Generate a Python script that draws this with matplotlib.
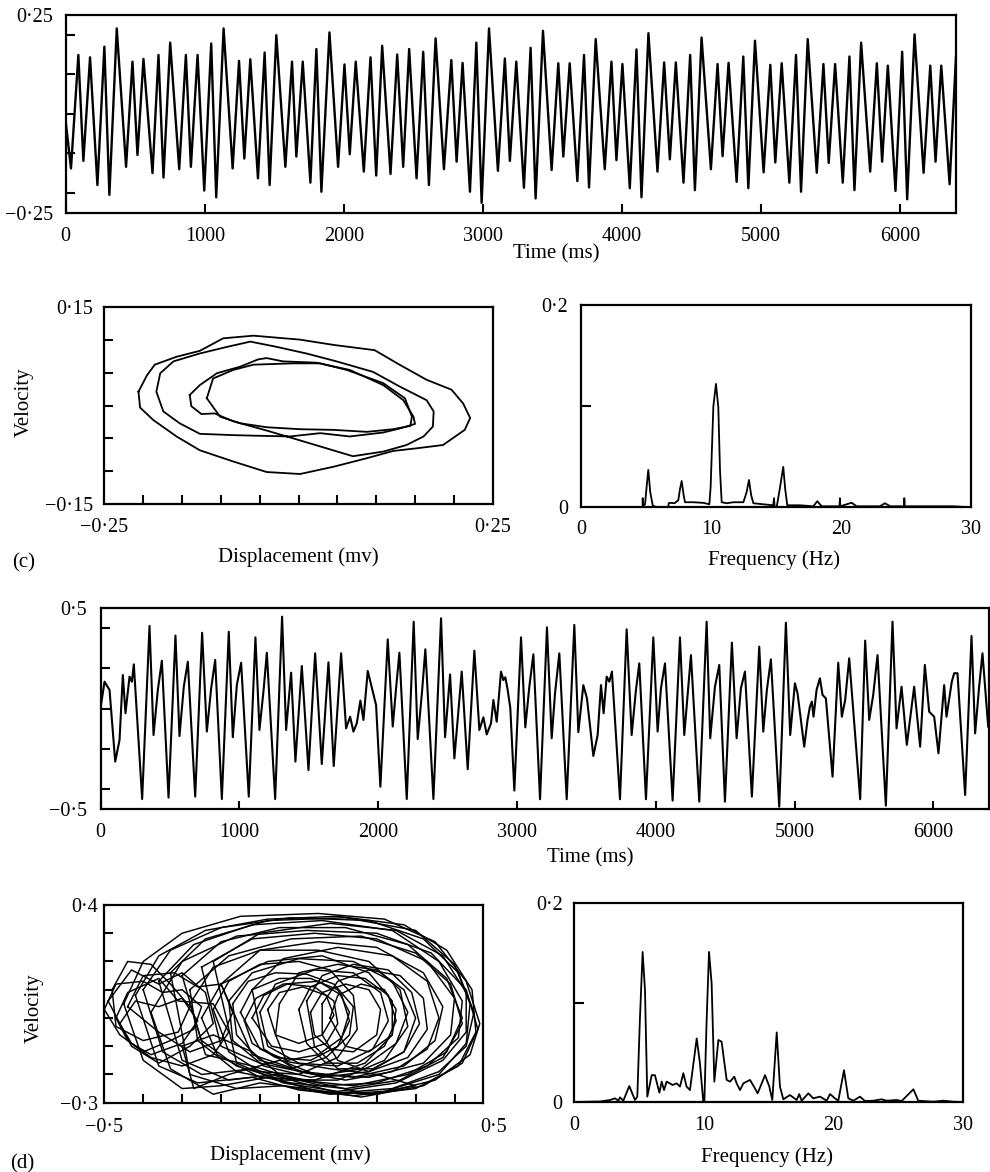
import matplotlib
matplotlib.use("Agg")
import matplotlib.pyplot as plt

plt.rcParams['font.family'] = ['Liberation Serif', 'DejaVu Serif']

# ---------------- data ----------------
# top time series: extrema (time ms, displacement)
top_t = [0, 38, 91, 127, 175, 228, 278, 314, 367, 434, 480, 516, 559, 624, 667, 703, 751, 816, 864, 900,
         948, 996, 1046, 1082, 1135, 1200, 1246, 1284, 1327, 1382, 1430, 1466, 1514, 1579, 1627, 1658, 1704,
         1759, 1802, 1838, 1896, 1958, 2004, 2042, 2085, 2143, 2191, 2232, 2275, 2335, 2383, 2426, 2469,
         2522, 2570, 2611, 2659, 2719, 2772, 2810, 2853, 2906, 2952, 2990, 3043, 3107, 3157, 3193, 3239,
         3294, 3342, 3378, 3431, 3493, 3541, 3577, 3623, 3678, 3726, 3762, 3810, 3875, 3923, 3959, 4002,
         4055, 4103, 4139, 4189, 4254, 4302, 4343, 4386, 4441, 4489, 4523, 4571, 4638, 4686, 4722, 4765,
         4823, 4871, 4907, 4955, 5017, 5065, 5101, 5147, 5202, 5250, 5286, 5334, 5399, 5447, 5485, 5531,
         5586, 5634, 5670, 5718, 5783, 5831, 5869, 5910, 5965, 6013, 6049, 6102, 6167, 6215, 6253, 6294,
         6354, 6400]
top_v = [-0.02, -0.138, 0.149, -0.119, 0.143, -0.180, 0.170, -0.205, 0.216, -0.134, 0.132, -0.104, 0.139,
         -0.150, 0.149, -0.161, 0.180, -0.140, 0.149, -0.134, 0.149, -0.194, 0.178, -0.211, 0.216, -0.138,
         0.134, -0.113, 0.138, -0.163, 0.155, -0.180, 0.199, -0.134, 0.132, -0.108, 0.132, -0.174, 0.164,
         -0.197, 0.206, -0.134, 0.125, -0.102, 0.132, -0.146, 0.143, -0.156, 0.172, -0.152, 0.150, -0.134,
         0.164, -0.163, 0.157, -0.180, 0.191, -0.140, 0.136, -0.121, 0.129, -0.197, 0.180, -0.225, 0.216,
         -0.144, 0.140, -0.119, 0.132, -0.187, 0.167, -0.214, 0.210, -0.142, 0.128, -0.108, 0.128, -0.170,
         0.149, -0.186, 0.189, -0.140, 0.132, -0.117, 0.126, -0.188, 0.163, -0.211, 0.204, -0.146, 0.130,
         -0.115, 0.130, -0.174, 0.149, -0.193, 0.193, -0.140, 0.126, -0.107, 0.129, -0.172, 0.145, -0.188,
         0.185, -0.148, 0.124, -0.123, 0.128, -0.174, 0.149, -0.197, 0.189, -0.149, 0.126, -0.124, 0.126,
         -0.174, 0.145, -0.193, 0.180, -0.146, 0.128, -0.121, 0.122, -0.195, 0.157, -0.216, 0.201, -0.149,
         0.122, -0.121, 0.122, -0.178, 0.145]

# panel (c) phase portrait loops (displacement, velocity)
c_loop_outer = [(-0.206, 0.021), (-0.195, 0.046), (-0.185, 0.062), (-0.157, 0.074), (-0.127, 0.083),
                (-0.097, 0.102), (-0.058, 0.106), (0.002, 0.100), (0.045, 0.092), (0.098, 0.084),
                (0.130, 0.062), (0.165, 0.039), (0.197, 0.024), (0.212, 0.003), (0.221, -0.019),
                (0.214, -0.037), (0.186, -0.060), (0.152, -0.065), (0.122, -0.069), (0.088, -0.080),
                (0.045, -0.093), (0.002, -0.104), (-0.041, -0.101), (-0.084, -0.085), (-0.127, -0.068),
                (-0.157, -0.047), (-0.187, -0.022), (-0.204, -0.003), (-0.206, 0.021)]
c_loop_mid = [(-0.140, 0.016), (-0.127, 0.031), (-0.105, 0.049), (-0.075, 0.059), (-0.052, 0.070),
              (-0.041, 0.072), (-0.020, 0.067), (0.023, 0.065), (0.066, 0.054), (0.109, 0.031),
              (0.135, 0.008), (0.148, -0.017), (0.150, -0.028), (0.130, -0.035), (0.109, -0.041),
              (0.066, -0.047), (0.028, -0.042), (-0.011, -0.047), (-0.050, -0.046), (-0.084, -0.045),
              (-0.127, -0.043), (-0.153, -0.027), (-0.174, -0.009), (-0.183, 0.021), (-0.178, 0.049),
              (-0.161, 0.067), (-0.127, 0.079), (-0.092, 0.089), (-0.062, 0.097), (-0.028, 0.089),
              (0.010, 0.079), (0.049, 0.067), (0.096, 0.051), (0.130, 0.029), (0.165, 0.008),
              (0.174, -0.009), (0.173, -0.032), (0.161, -0.047), (0.139, -0.060), (0.109, -0.070),
              (0.070, -0.077), (0.036, -0.065), (0.002, -0.053), (-0.041, -0.038), (-0.084, -0.024),
              (-0.108, -0.012), (-0.125, -0.013), (-0.138, -0.001), (-0.140, 0.016)]
c_loop_inner = [(-0.118, 0.011), (-0.110, 0.041), (-0.084, 0.054), (-0.058, 0.062), (-0.007, 0.064),
                (0.028, 0.064), (0.062, 0.054), (0.109, 0.034), (0.137, 0.011), (0.146, -0.017),
                (0.144, -0.031), (0.122, -0.036), (0.088, -0.040), (0.045, -0.037), (0.002, -0.036),
                (-0.041, -0.033), (-0.075, -0.027), (-0.101, -0.017), (-0.118, 0.011)]

# panel (c) spectrum
c_freq = [0, 4.74, 4.75, 4.77, 4.93, 5.05, 5.18, 5.33, 5.52, 5.62, 6.0, 6.72, 6.75, 6.85, 7.2, 7.49,
          7.62, 7.75, 7.9, 8.01, 8.65, 9.42, 9.88, 9.98, 10.19, 10.39, 10.57, 10.70, 10.83, 11.21, 11.73,
          12.50, 12.75, 12.93, 13.1, 13.27, 14.03, 14.80, 14.86, 14.90, 15.06, 15.3, 15.57, 15.72, 15.88,
          16.86, 17.88, 18.19, 18.53, 19.9, 19.93, 19.96, 20.83, 21.22, 23.0, 23.40, 23.8, 24.87, 24.89,
          24.92, 26.1, 28.66, 30]
c_amp = [0.0, 0.0, 0.009, 0.001, 0.003, 0.020, 0.037, 0.015, 0.002, 0.001, 0.0, 0.0, 0.004, 0.0044,
         0.004, 0.007, 0.018, 0.026, 0.012, 0.005, 0.005, 0.0044, 0.003, 0.020, 0.100, 0.122, 0.099, 0.037,
         0.005, 0.004, 0.005, 0.005, 0.015, 0.027, 0.012, 0.004, 0.003, 0.002, 0.009, 0.001, 0.0, 0.018,
         0.040, 0.018, 0.002, 0.002, 0.001, 0.006, 0.001, 0.001, 0.009, 0.001, 0.0045, 0.001, 0.001, 0.004,
         0.001, 0.001, 0.009, 0.001, 0.001, 0.001, 0.0]

# panel (d) time series: extrema (time ms, displacement)
d_t = [0, 29, 65, 106, 137, 161, 180, 209, 226, 240, 300, 353, 382, 413, 442, 490, 540, 569, 600, 629,
       682, 732, 766, 797, 826, 874, 924, 953, 982, 1013, 1068, 1116, 1145, 1176, 1198, 1258, 1308, 1337,
       1373, 1404, 1450, 1498, 1546, 1594, 1642, 1680, 1733, 1769, 1798, 1822, 1846, 1872, 1894, 1925,
       1944, 1985, 2016, 2069, 2105, 2129, 2153, 2206, 2256, 2285, 2316, 2340, 2398, 2453, 2482, 2518,
       2549, 2602, 2645, 2693, 2729, 2758, 2782, 2813, 2830, 2854, 2885, 2902, 2916, 2933, 2952, 2981,
       3029, 3060, 3089, 3118, 3166, 3216, 3250, 3274, 3305, 3358, 3413, 3442, 3478, 3504, 3550, 3581,
       3605, 3624, 3646, 3665, 3684, 3742, 3790, 3826, 3857, 3881, 3929, 3982, 4013, 4037, 4066, 4121,
       4174, 4205, 4234, 4253, 4313, 4366, 4392, 4426, 4457, 4498, 4548, 4582, 4613, 4642, 4692, 4745,
       4774, 4800, 4829, 4889, 4937, 4968, 5002, 5021, 5069, 5093, 5110, 5124, 5136, 5158, 5182, 5201,
       5225, 5273, 5314, 5340, 5364, 5393, 5472, 5508, 5537, 5566, 5597, 5657, 5705, 5734, 5770, 5808,
       5861, 5904, 5938, 5969, 6005, 6036, 6077, 6094, 6132, 6149, 6173, 6228, 6274, 6300, 6329, 6353,
       6394]
d_v = [0.002, 0.134, 0.093, -0.263, -0.156, 0.167, -0.023, 0.159, 0.134, 0.220,
       -0.449, 0.411, -0.131, 0.093, 0.238, -0.442, 0.363, -0.136, 0.109, 0.233,
       -0.437, 0.377, -0.114, 0.101, 0.242, -0.449, 0.382, -0.142, 0.117, 0.228,
       -0.437, 0.354, -0.106, 0.101, 0.278, -0.449, 0.457, -0.106, 0.179, -0.263,
       0.212, -0.305, 0.275, -0.275, 0.230, -0.285, 0.275, -0.098, -0.040, -0.114,
       -0.073, 0.040, -0.056, 0.187, 0.134, 0.018, -0.388, 0.344, -0.089, 0.101,
       0.278, -0.449, 0.432, -0.151, 0.084, 0.295, -0.449, 0.449, -0.142, 0.170,
       -0.247, 0.184, -0.301, 0.288, -0.106, -0.043, -0.128, -0.073, 0.043, -0.065,
       0.184, 0.142, 0.156, 0.093, 0.002, -0.407, 0.354, -0.093, 0.109, 0.270,
       -0.450, 0.404, -0.147, 0.076, 0.275, -0.450, 0.416, -0.117, 0.117, 0.051,
       -0.235, -0.131, 0.117, -0.023, 0.159, 0.134, 0.184, -0.450, 0.394, -0.131,
       0.093, 0.225, -0.450, 0.354, -0.114, 0.101, 0.225, -0.457, 0.354, -0.131,
       0.109, 0.266, -0.462, 0.432, -0.147, 0.109, 0.217, -0.462, 0.328, -0.147,
       0.101, 0.184, -0.437, 0.308, -0.114, 0.093, 0.245, -0.487, 0.427, -0.131,
       0.126, 0.076, -0.189, -0.056, 0.010, 0.035, -0.040, 0.093, 0.151, 0.068,
       0.051, -0.338, 0.228, -0.040, 0.043, 0.250, -0.450, 0.338, -0.056, 0.068,
       0.266, -0.482, 0.432, -0.098, 0.109, -0.180, 0.109, -0.189, 0.217, -0.015,
       -0.040, -0.222, 0.117, -0.040, 0.134, 0.176, 0.176, -0.429, 0.361, -0.123,
       0.109, 0.275, -0.089]

# panel (d) phase portrait loops (displacement, velocity)
d_big_1 = [(-0.45, 0.05), (-0.40, 0.20), (-0.30, 0.30), (-0.15, 0.36), (0.05, 0.37), (0.22, 0.35),
           (0.35, 0.27), (0.43, 0.13), (0.465, -0.02), (0.44, -0.13), (0.35, -0.22), (0.20, -0.27),
           (0.05, -0.26), (-0.08, -0.21), (-0.20, -0.24), (-0.30, -0.25), (-0.40, -0.15), (-0.45, 0.05)]
d_big_2 = [(-0.40, 0.10), (-0.33, 0.24), (-0.20, 0.32), (-0.02, 0.355), (0.18, 0.345), (0.32, 0.28),
           (0.41, 0.16), (0.45, 0.02), (0.43, -0.10), (0.36, -0.19), (0.24, -0.25), (0.10, -0.265),
           (-0.02, -0.22), (-0.12, -0.18), (-0.25, -0.20), (-0.35, -0.12), (-0.40, 0.10)]
d_big_3 = [(-0.36, 0.13), (-0.27, 0.26), (-0.12, 0.33), (0.06, 0.345), (0.24, 0.31), (0.36, 0.20),
           (0.42, 0.06), (0.41, -0.07), (0.33, -0.17), (0.20, -0.23), (0.06, -0.24), (-0.06, -0.20),
           (-0.18, -0.22), (-0.30, -0.15), (-0.36, 0.13)]
d_big_4 = [(-0.30, 0.15), (-0.20, 0.27), (-0.05, 0.32), (0.12, 0.32), (0.28, 0.26), (0.38, 0.14),
           (0.42, 0.00), (0.38, -0.12), (0.28, -0.20), (0.14, -0.24), (0.00, -0.22), (-0.12, -0.17),
           (-0.24, -0.13), (-0.30, 0.15)]
d_big_5 = [(-0.25, 0.18), (-0.12, 0.28), (0.04, 0.30), (0.20, 0.28), (0.33, 0.20), (0.40, 0.07),
           (0.39, -0.06), (0.32, -0.16), (0.18, -0.21), (0.04, -0.20), (-0.10, -0.16), (-0.20, -0.10),
           (-0.25, 0.18)]
d_big_6 = [(-0.20, 0.12), (-0.10, 0.24), (0.05, 0.27), (0.20, 0.25), (0.32, 0.16), (0.37, 0.04),
           (0.35, -0.08), (0.27, -0.17), (0.14, -0.21), (0.01, -0.19), (-0.12, -0.13), (-0.20, 0.12)]
d_big_7 = [(-0.38, 0.02), (-0.30, 0.20), (-0.16, 0.29), (0.02, 0.31), (0.20, 0.30), (0.34, 0.23),
           (0.43, 0.10), (0.46, -0.04), (0.42, -0.16), (0.32, -0.24), (0.16, -0.28), (0.02, -0.25),
           (-0.10, -0.23), (-0.22, -0.27), (-0.33, -0.18), (-0.38, 0.02)]
d_big_8 = [(-0.42, 0.08), (-0.36, 0.22), (-0.24, 0.31), (-0.08, 0.35), (0.10, 0.36), (0.27, 0.33),
           (0.38, 0.24), (0.445, 0.10), (0.455, -0.05), (0.41, -0.17), (0.30, -0.25), (0.14, -0.275),
           (0.00, -0.255), (-0.12, -0.21), (-0.26, -0.23), (-0.36, -0.17), (-0.42, 0.08)]
d_big_9 = [(-0.33, 0.16), (-0.24, 0.28), (-0.08, 0.345), (0.12, 0.355), (0.30, 0.31), (0.40, 0.19),
           (0.44, 0.05), (0.43, -0.09), (0.36, -0.20), (0.22, -0.26), (0.08, -0.27), (-0.04, -0.24),
           (-0.16, -0.25), (-0.28, -0.20), (-0.33, 0.16)]
d_big_10 = [(-0.28, 0.10), (-0.18, 0.22), (-0.02, 0.28), (0.16, 0.29), (0.30, 0.23), (0.39, 0.12),
            (0.42, -0.02), (0.37, -0.14), (0.26, -0.22), (0.12, -0.25), (-0.02, -0.23), (-0.16, -0.19),
            (-0.26, -0.08), (-0.28, 0.10)]
d_big_11 = [(-0.22, 0.20), (-0.10, 0.30), (0.08, 0.335), (0.25, 0.31), (0.37, 0.22), (0.43, 0.09),
            (0.43, -0.05), (0.37, -0.15), (0.25, -0.23), (0.10, -0.26), (-0.04, -0.23), (-0.16, -0.16),
            (-0.22, 0.20)]
d_big_12 = [(-0.12, 0.10), (-0.04, 0.21), (0.10, 0.25), (0.24, 0.22), (0.33, 0.13), (0.36, 0.00),
            (0.33, -0.11), (0.24, -0.19), (0.12, -0.22), (0.00, -0.19), (-0.09, -0.11), (-0.12, 0.10)]
d_small_1 = [(-0.15, 0.02), (-0.12, 0.10), (-0.05, 0.14), (0.03, 0.14), (0.10, 0.10), (0.13, 0.02),
             (0.11, -0.07), (0.05, -0.13), (-0.03, -0.15), (-0.10, -0.11), (-0.15, 0.02)]
d_small_2 = [(-0.12, 0.00), (-0.09, 0.08), (-0.03, 0.12), (0.04, 0.11), (0.09, 0.06), (0.10, -0.02),
             (0.07, -0.09), (0.00, -0.12), (-0.07, -0.10), (-0.12, 0.00)]
d_small_3 = [(-0.17, 0.05), (-0.13, 0.13), (-0.06, 0.16), (0.02, 0.155), (0.09, 0.12), (0.14, 0.04),
             (0.13, -0.06), (0.07, -0.14), (-0.02, -0.18), (-0.10, -0.15), (-0.16, -0.06), (-0.17, 0.05)]
d_small_4 = [(-0.08, 0.03), (-0.05, 0.09), (0.01, 0.11), (0.07, 0.08), (0.09, 0.01), (0.06, -0.06),
             (0.00, -0.09), (-0.06, -0.06), (-0.08, 0.03)]
d_small_5 = [(0.00, 0.03), (0.03, 0.11), (0.10, 0.15), (0.17, 0.14), (0.23, 0.08), (0.25, -0.01),
             (0.22, -0.10), (0.15, -0.16), (0.07, -0.16), (0.02, -0.09), (0.00, 0.03)]
d_small_6 = [(0.03, 0.02), (0.06, 0.09), (0.12, 0.12), (0.18, 0.10), (0.21, 0.03), (0.20, -0.06),
             (0.14, -0.12), (0.08, -0.11), (0.04, -0.06), (0.03, 0.02)]
d_small_7 = [(-0.05, 0.05), (0.00, 0.16), (0.10, 0.19), (0.20, 0.17), (0.27, 0.10), (0.30, 0.00),
             (0.27, -0.12), (0.18, -0.19), (0.06, -0.21), (-0.03, -0.16), (-0.06, -0.06), (-0.05, 0.05)]
d_small_8 = [(-0.22, 0.03), (-0.18, 0.13), (-0.10, 0.19), (0.00, 0.20), (0.08, 0.17), (0.14, 0.08),
             (0.15, -0.04), (0.10, -0.14), (0.00, -0.20), (-0.10, -0.19), (-0.18, -0.12), (-0.22, 0.03)]
d_small_9 = [(-0.28, 0.05), (-0.22, 0.18), (-0.10, 0.24), (0.05, 0.24), (0.18, 0.20), (0.26, 0.10),
             (0.28, -0.03), (0.22, -0.15), (0.10, -0.22), (-0.04, -0.22), (-0.16, -0.17), (-0.25, -0.08),
             (-0.28, 0.05)]
d_small_10 = [(0.06, 0.05), (0.10, 0.13), (0.18, 0.17), (0.26, 0.15), (0.32, 0.07), (0.33, -0.04),
              (0.28, -0.14), (0.18, -0.19), (0.10, -0.15), (0.06, -0.06), (0.06, 0.05)]
d_mid_1 = [(-0.18, 0.06), (-0.12, 0.16), (0.00, 0.21), (0.14, 0.20), (0.24, 0.13), (0.28, 0.02),
           (0.25, -0.09), (0.16, -0.18), (0.03, -0.21), (-0.09, -0.17), (-0.17, -0.08), (-0.18, 0.06)]
d_mid_2 = [(-0.10, 0.02), (-0.06, 0.12), (0.04, 0.17), (0.14, 0.16), (0.21, 0.09), (0.23, -0.01),
           (0.19, -0.11), (0.10, -0.17), (0.00, -0.16), (-0.08, -0.10), (-0.10, 0.02)]
d_mid_3 = [(0.02, 0.06), (0.06, 0.15), (0.14, 0.19), (0.23, 0.17), (0.29, 0.09), (0.31, -0.02),
           (0.27, -0.12), (0.19, -0.18), (0.10, -0.18), (0.04, -0.10), (0.02, 0.06)]
d_mid_4 = [(-0.14, -0.01), (-0.11, 0.07), (-0.04, 0.12), (0.05, 0.13), (0.11, 0.08), (0.13, -0.01),
           (0.10, -0.10), (0.03, -0.15), (-0.06, -0.14), (-0.12, -0.09), (-0.14, -0.01)]
d_mid_5 = [(0.08, 0.00), (0.10, 0.08), (0.16, 0.12), (0.22, 0.10), (0.25, 0.03), (0.24, -0.06),
           (0.18, -0.12), (0.12, -0.10), (0.08, 0.00)]
d_mid_6 = [(-0.25, 0.00), (-0.20, 0.12), (-0.08, 0.20), (0.06, 0.22), (0.18, 0.16), (0.24, 0.06),
           (0.24, -0.06), (0.17, -0.16), (0.04, -0.22), (-0.10, -0.21), (-0.21, -0.13), (-0.25, 0.00)]
d_left_1 = [(-0.50, 0.03), (-0.47, 0.12), (-0.40, 0.13), (-0.35, 0.09), (-0.30, 0.10), (-0.25, 0.04),
            (-0.27, -0.04), (-0.33, -0.08), (-0.40, -0.12), (-0.46, -0.06), (-0.50, 0.03)]
d_left_2 = [(-0.47, 0.00), (-0.44, 0.09), (-0.36, 0.14), (-0.31, 0.06), (-0.22, 0.05), (-0.18, -0.05),
            (-0.22, -0.13), (-0.30, -0.17), (-0.38, -0.14), (-0.44, -0.08), (-0.47, 0.00)]
d_left_3 = [(-0.44, 0.04), (-0.40, 0.15), (-0.32, 0.16), (-0.26, 0.11), (-0.20, 0.12), (-0.17, 0.02),
            (-0.20, -0.08), (-0.28, -0.12), (-0.36, -0.05), (-0.44, 0.04)]
d_left_4 = [(-0.49, 0.06), (-0.43, 0.17), (-0.36, 0.12), (-0.30, 0.16), (-0.24, 0.09), (-0.22, -0.02),
            (-0.28, -0.10), (-0.36, -0.16), (-0.43, -0.10), (-0.49, 0.06)]
d_left_5 = [(-0.46, -0.02), (-0.42, 0.06), (-0.36, 0.04), (-0.30, 0.07), (-0.26, -0.01), (-0.30, -0.09),
            (-0.38, -0.13), (-0.43, -0.09), (-0.46, -0.02)]
d_left_6 = [(-0.48, 0.10), (-0.44, 0.20), (-0.38, 0.19), (-0.33, 0.12), (-0.28, 0.04), (-0.31, -0.05),
            (-0.40, -0.08), (-0.47, -0.03), (-0.48, 0.10)]
d_bottom_1 = [(-0.30, -0.10), (-0.22, -0.06), (-0.12, -0.12), (-0.05, -0.20), (0.05, -0.23), (0.18, -0.27),
              (0.30, -0.24), (0.20, -0.20), (0.08, -0.18), (-0.05, -0.15), (-0.18, -0.20), (-0.27, -0.25),
              (-0.30, -0.10)]

d_loops = [d_big_1, d_big_2, d_big_3, d_big_4, d_big_5, d_big_6, d_big_7, d_big_8, d_big_9, d_big_10,
           d_big_11, d_big_12, d_small_1, d_small_2, d_small_3, d_small_4, d_small_5, d_small_6,
           d_small_7, d_small_8, d_small_9, d_small_10, d_mid_1, d_mid_2, d_mid_3, d_mid_4, d_mid_5,
           d_mid_6, d_left_1, d_left_2, d_left_3, d_left_4, d_left_5, d_left_6, d_bottom_1]

# panel (d) spectrum
d_freq = [0, 1.98, 2.75, 3.14, 3.40, 3.52, 3.78, 4.24, 4.68, 4.86, 5.05, 5.27, 5.45, 5.63, 5.97, 6.22,
          6.56, 6.74, 6.92, 7.12, 7.59, 7.89, 8.15, 8.41, 8.66, 8.92, 9.44, 9.69, 9.95, 10.03, 10.20,
          10.39, 10.59, 10.80, 11.11, 11.36, 11.75, 12.01, 12.34, 12.52, 12.78, 13.04, 13.55, 13.93,
          14.14, 14.71, 15.04, 15.27, 15.61, 15.86, 16.12, 16.63, 17.15, 17.35, 17.53, 18.05, 18.43,
          18.95, 19.46, 19.72, 20.10, 20.36, 20.80, 21.13, 21.52, 22.03, 22.42, 23.06, 23.70, 24.09,
          24.86, 25.25, 26.15, 26.53, 27.69, 28.46, 29.23, 30]
d_amp = [0, 0.0005, 0.002, 0.0037, 0.0013, 0.0047, 0.0013, 0.016, 0.002, 0.0054, 0.08, 0.151, 0.113,
         0.0054, 0.027, 0.027, 0.0094, 0.0205, 0.012, 0.0205, 0.0171, 0.0188, 0.0155, 0.029, 0.0155,
         0.012, 0.064, 0.039, 0.0, 0.0, 0.08, 0.151, 0.1195, 0.0205, 0.0624, 0.0607, 0.0222, 0.0205,
         0.0255, 0.0188, 0.012, 0.0188, 0.0222, 0.0138, 0.0087, 0.027, 0.0155, 0.002, 0.070, 0.0155,
         0.0027, 0.007, 0.002, 0.008, 0.0013, 0.0087, 0.0037, 0.0054, 0.0013, 0.008, 0.0037, 0.0013,
         0.032, 0.0037, 0.0013, 0.0054, 0.001, 0.0013, 0.0027, 0.0013, 0.002, 0.001, 0.0128, 0.0013,
         0.0003, 0.0013, 0.0003, 0]

time_ticks = [0, 1000, 2000, 3000, 4000, 5000, 6000]
freq_ticks = [0, 10, 20, 30]

# ---------------- figure ----------------
W, H = 990, 1172
fig = plt.figure(figsize=(W / 100, H / 100), dpi=100)


def px_axes(l, t, r, b):
    return fig.add_axes([l / W, 1 - b / H, (r - l) / W, (b - t) / H])


def style(ax):
    for s in ax.spines.values():
        s.set_linewidth(1.6)
    ax.tick_params(which='both', direction='in', width=1.5, labelsize=14.5, colors='black')
    ax.tick_params(which='minor', length=6.5)


FS_LAB = 15
LW = 1.3

# top panel
ax1 = px_axes(65.7, 15, 956, 212.7)
n = min(len(top_t), len(top_v))
ax1.plot(top_t[:n], top_v[:n], color='black', lw=1.7, solid_joinstyle='round')
ax1.set_xlim(0, 6400)
ax1.set_ylim(-0.25, 0.25)
style(ax1)
ax1.set_xticks(time_ticks, [str(v) for v in time_ticks])
ax1.set_yticks([-0.25, 0.25], ['\u22120\u00b725', '0\u00b725'])
ax1.set_yticks([-0.2, -0.1, 0, 0.1, 0.2], minor=True)
ax1.tick_params(axis='x', which='major', length=6.5, pad=10)
ax1.tick_params(axis='y', which='major', length=0, pad=9)

# (c) phase portrait
ax2 = px_axes(104.3, 306.7, 492.7, 504.3)
for loop in (c_loop_outer, c_loop_mid, c_loop_inner):
    xs, ys = zip(*loop)
    ax2.plot(xs, ys, color='black', lw=LW)
ax2.set_xlim(-0.25, 0.25)
ax2.set_ylim(-0.15, 0.15)
style(ax2)
ax2.set_xticks([-0.25, 0.25], ['\u22120\u00b725', '0\u00b725'])
ax2.set_yticks([-0.15, 0.15], ['\u22120\u00b715', '0\u00b715'])
ax2.set_xticks([-0.2, -0.15, -0.1, -0.05, 0, 0.05, 0.1, 0.15, 0.2], minor=True)
ax2.set_yticks([-0.1, -0.05, 0, 0.05, 0.1], minor=True)
ax2.tick_params(axis='x', which='major', length=0, pad=10)
ax2.tick_params(axis='y', which='major', length=0, pad=8)

# (c) spectrum
ax3 = px_axes(581, 305, 970.7, 507.3)
ax3.plot(c_freq, c_amp, color='black', lw=LW)
ax3.set_xlim(0, 30)
ax3.set_ylim(0, 0.2)
style(ax3)
ax3.set_xticks(freq_ticks, [str(v) for v in freq_ticks])
ax3.set_yticks([0, 0.2], ['0', '0\u00b72'])
ax3.set_yticks([0.1], minor=True)
ax3.tick_params(axis='x', which='major', length=0, pad=9.5)
ax3.tick_params(axis='y', which='major', length=0, pad=9.4)
ax3.tick_params(axis='y', which='minor', length=7)

# (d) time series
ax4 = px_axes(100.5, 608, 989, 809.3)
ax4.plot(d_t, d_v, color='black', lw=1.5, solid_joinstyle='round')
ax4.set_xlim(0, 6400)
ax4.set_ylim(-0.5, 0.5)
style(ax4)
ax4.set_xticks(time_ticks, [str(v) for v in time_ticks])
ax4.set_yticks([-0.5, 0.5], ['\u22120\u00b75', '0\u00b75'])
ax4.set_yticks([-0.4, -0.2, 0, 0.2, 0.4], minor=True)
ax4.tick_params(axis='x', which='major', length=6, pad=10)
ax4.tick_params(axis='y', which='major', length=0, pad=10)

# (d) phase portrait
ax5 = px_axes(104.3, 905, 483.3, 1102.7)
for loop in d_loops:
    xs, ys = zip(*loop)
    ax5.plot(xs, ys, color='black', lw=1.05)
ax5.set_xlim(-0.5, 0.474)
ax5.set_ylim(-0.3, 0.4)
style(ax5)
ax5.set_xticks([])
ax5.set_xticks([-0.4, -0.3, -0.2, -0.1, 0, 0.1, 0.2, 0.3, 0.4], minor=True)
ax5.set_yticks([-0.3, 0.4], ['\u22120\u00b73', '0\u00b74'])
ax5.set_yticks([-0.2, -0.1, 0, 0.1, 0.2, 0.3], minor=True)
ax5.tick_params(axis='y', which='major', length=0, pad=4.7)
for xv, lab in ((-0.5, '\u22120\u00b75'), (0.5, '0\u00b75')):
    ax5.text(xv, -0.127, lab, transform=ax5.get_xaxis_transform(), ha='center', va='center',
             fontsize=14.5, clip_on=False)

# (d) spectrum
ax6 = px_axes(574.3, 903.3, 963.3, 1102)
ax6.plot(d_freq, d_amp, color='black', lw=LW)
ax6.set_xlim(0, 30)
ax6.set_ylim(0, 0.2)
style(ax6)
ax6.set_xticks(freq_ticks, [str(v) for v in freq_ticks])
ax6.set_yticks([0, 0.2], ['0', '0\u00b72'])
ax6.set_yticks([0.1], minor=True)
ax6.tick_params(axis='x', which='major', length=0, pad=10)
ax6.tick_params(axis='y', which='major', length=0, pad=8.4)
ax6.tick_params(axis='y', which='minor', length=7.5)


def ftext(x, y, s, **kw):
    fig.text(x / W, 1 - y / H, s, fontsize=FS_LAB, va='center', **kw)


ftext(556, 254, 'Time (ms)', ha='center')
ftext(298, 557, 'Displacement (mv)', ha='center')
ftext(12, 563, '(c)', ha='left')
ftext(774, 560, 'Frequency (Hz)', ha='center')
ftext(24, 402, 'Velocity', ha='center', rotation=90)
ftext(590, 858, 'Time (ms)', ha='center')
ftext(34, 1008, 'Velocity', ha='center', rotation=90)
ftext(290, 1155, 'Displacement (mv)', ha='center')
ftext(10, 1164, '(d)', ha='left')
ftext(767, 1157, 'Frequency (Hz)', ha='center')

fig.savefig('out.png', dpi=100, facecolor='white')
